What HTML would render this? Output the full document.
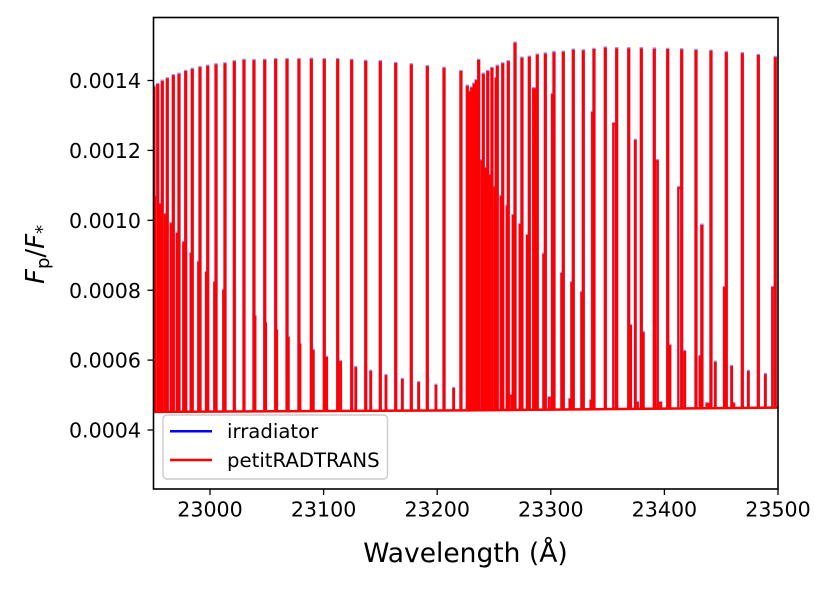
<!DOCTYPE html>
<html>
<head>
<meta charset="utf-8">
<title>Fp/F* spectrum</title>
<style>
html,body{margin:0;padding:0;background:#fff;width:830px;height:593px;overflow:hidden}
svg{display:block}
text{font-family:"DejaVu Sans","Liberation Sans",sans-serif;fill:#000}
</style>
</head>
<body>
<svg id="chart" width="830" height="593" viewBox="0 0 830 593" xmlns="http://www.w3.org/2000/svg">
  <defs><clipPath id="plot-clip"><rect x="153.5" y="17.5" width="624.5" height="471.5"/></clipPath></defs>
  <rect x="0" y="0" width="830" height="593" fill="#fff"/>
  <g id="series" clip-path="url(#plot-clip)"></g>
  <g id="ticks"></g>
  <rect x="153.5" y="17.5" width="624.5" height="471.5" fill="none" stroke="#000" stroke-width="1.6"/>
  <text x="465.5" y="562" font-size="26.5" text-anchor="middle">Wavelength (Å)</text>
  <text transform="translate(44 284) rotate(-90)" font-size="26"><tspan font-style="italic">F</tspan><tspan font-size="18" dy="5">p</tspan><tspan dy="-5">/</tspan><tspan font-style="italic">F</tspan><tspan font-size="18" dy="4">*</tspan></text>
  <g>
    <rect x="163" y="415" width="224.5" height="64" rx="4" ry="4" fill="#fff" fill-opacity="0.8" stroke="#cccccc" stroke-width="1.4"/>
    <line x1="170" y1="431.3" x2="212" y2="431.3" stroke="#0000ff" stroke-width="2.5"/>
    <text x="227" y="438" font-size="19.7">irradiator</text>
    <line x1="170" y1="460" x2="212" y2="460" stroke="#ff0000" stroke-width="2.5"/>
    <text x="227" y="467" font-size="19.7">petitRADTRANS</text>
  </g>
</svg>
<script>
const xTicks = [23000, 23100, 23200, 23300, 23400, 23500];
const yTicks = [0.0004, 0.0006, 0.0008, 0.0010, 0.0012, 0.0014];

const continuumWave = [22950, 23225, 23500];
const irradiatorContinuum = [0.000452, 0.000456, 0.000464];
const radtransContinuum = [0.000452, 0.000456, 0.000464];

const lineWave = [
22950.7,22954.0,22958.0,22962.4,22967.7,22972.7,22978.6,22984.4,22991.2,22998.0,
23005.3,23013.2,23021.4,23029.9,23038.7,23048.2,23057.8,23067.8,23078.3,23089.2,
23100.6,23112.4,23124.7,23137.1,23149.9,23163.5,23177.2,23191.3,23206.0,23220.9,
23226.5,23228.3,23230.4,23232.4,23234.4,23236.5,23240.6,23244.5,23248.2,23252.9,
23257.7,23262.6,23268.5,23274.6,23281.1,23288.1,23295.2,23302.8,23311.0,23319.8,
23328.6,23338.0,23348.0,23358.0,23368.6,23379.7,23391.1,23402.9,23415.2,23427.8,
23441.0,23454.5,23468.6,23482.7,23497.6,22951.6,22956.0,22960.4,22965.4,22970.7,
22976.5,22983.0,22989.7,22996.5,23003.8,23011.7,23021.4,23029.9,23039.6,23049.0,
23058.7,23068.9,23079.2,23090.9,23102.7,23115.0,23128.3,23141.5,23154.9,23169.3,
23183.7,23198.9,23214.5,23239.2,23242.7,23246.2,23250.6,23251.5,23255.9,23261.2,
23266.5,23272.6,23279.0,23285.2,23286.1,23293.5,23301.3,23309.6,23318.4,23327.2,
23336.6,23356.1,23370.3,23374.4,23381.4,23393.2,23404.9,23413.5,23417.9,23431.3,
23433.0,23444.8,23452.7,23459.2,23473.9,23488.9,23495.9,23264.7,23299.3,23317.5,
23336.0,23375.6,23396.1,23438.1,23460.4
];

const lineWidth = [
0.9,0.9,0.9,0.9,0.9,0.9,0.9,0.9,0.9,0.9,
0.9,0.9,0.9,0.9,0.9,0.9,0.9,0.9,0.9,0.9,
0.9,0.9,0.9,0.9,0.9,0.9,0.9,0.9,0.9,0.9,
0.9,0.9,0.9,0.9,0.9,0.9,0.9,0.9,0.9,0.9,
0.9,0.9,0.9,0.9,0.9,0.9,0.9,0.9,0.9,0.9,
0.9,0.9,0.9,0.9,0.9,0.9,0.9,0.9,0.9,0.9,
0.9,0.9,0.9,0.9,0.9,0.1,0.1,0.1,0.1,0.1,
0.1,0.1,0.1,0.1,0.1,0.1,0.1,0.1,0.6,0.6,
0.6,0.6,0.6,0.6,0.6,0.6,0.6,0.6,0.6,0.6,
0.6,0.6,0.6,0.6,0.6,0.6,0.1,0.1,0.1,0.1,
0.1,0.1,0.1,1.5,0.1,0.1,0.6,0.6,0.6,0.6,
0.6,2.2,0.6,0.6,0.6,2.0,0.6,2.5,0.6,0.6,
1.0,0.6,0.6,0.6,0.6,0.6,2.0,2.0,2.0,2.0,
2.0,2.0,2.0,2.0,2.0
];

const radtransFlux = [
.001382,.001390,.001399,.001406,.001415,.001419,.001427,.001433,.001438,.001442,
.001446,.001449,.001455,.001459,.001458,.001459,.001461,.001461,.001461,.001462,
.001461,.001461,.001459,.001456,.001455,.001450,.001446,.001441,.001436,.001427,
.001385,.001368,.001380,.001391,.001401,.001459,.001419,.001427,.001436,.001442,
.001449,.001455,.001508,.001465,.001468,.001474,.001477,.001481,.001482,.001488,
.001486,.001490,.001494,.001492,.001492,.001492,.001491,.001490,.001489,.001487,
.001485,.001481,.001478,.001473,.001467,.001069,.001047,.001018,.000992,.000964,
.000938,.000906,.000881,.000852,.000823,.000801,.000769,.000749,.000726,.000706,
.000686,.000666,.000646,.000629,.000609,.000597,.000580,.000569,.000557,.000546,
.000537,.000529,.000520,.001172,.001150,.001130,.001096,.001407,.001070,.001042,
.001015,.000989,.000958,.001378,.000935,.000904,.001361,.000849,.000823,.000795,
.001310,.001278,.000700,.001230,.000680,.001172,.000643,.001095,.000626,.000612,
.000987,.000595,.000809,.000583,.000569,.000560,.000809,.000500,.000494,.000489,
.000486,.000480,.000480,.000477,.000477
];

const irradiatorFlux = [
.001385,.001393,.001402,.001409,.001418,.001422,.001430,.001436,.001441,.001445,
.001449,.001452,.001458,.001462,.001461,.001462,.001464,.001464,.001464,.001465,
.001464,.001464,.001462,.001459,.001458,.001453,.001449,.001444,.001439,.001430,
.001388,.001371,.001383,.001394,.001404,.001462,.001422,.001430,.001439,.001445,
.001452,.001458,.001511,.001468,.001471,.001477,.001480,.001484,.001485,.001491,
.001489,.001493,.001497,.001495,.001495,.001495,.001494,.001493,.001492,.001490,
.001488,.001484,.001481,.001476,.001470,.001072,.001050,.001021,.000995,.000967,
.000941,.000909,.000884,.000855,.000826,.000804,.000772,.000752,.000729,.000709,
.000689,.000669,.000649,.000632,.000612,.000600,.000583,.000572,.000560,.000549,
.000540,.000532,.000523,.001175,.001153,.001133,.001099,.001410,.001073,.001045,
.001018,.000992,.000961,.001381,.000938,.000907,.001364,.000852,.000826,.000798,
.001313,.001281,.000703,.001233,.000683,.001175,.000646,.001098,.000629,.000615,
.000990,.000598,.000812,.000586,.000572,.000563,.000812,.000503,.000497,.000492,
.000489,.000483,.000483,.000480,.000480
];

const SVG_NS = 'http://www.w3.org/2000/svg';
const svg = document.getElementById('chart');
const seriesLayer = document.getElementById('series');
const tickLayer = document.getElementById('ticks');
const strokeHalf = 1.0;

function xScale(w) { return 210 + (w - 23000) * 1.136; }
function yScale(f) { return 430 - (f - 0.0004) * 349500; }

function continuumAt(w, values) {
  const i = w < continuumWave[1] ? 0 : 1;
  const t = (w - continuumWave[i]) / (continuumWave[i + 1] - continuumWave[i]);
  return values[i] + t * (values[i + 1] - values[i]);
}

function continuumPath(continuum) {
  return 'M' + continuumWave.map(function (w, i) {
    return xScale(w).toFixed(2) + ' ' + yScale(continuum[i]).toFixed(2);
  }).join('L');
}

function spectrumPath(flux, continuum) {
  let d = '';
  lineWave.forEach(function (w, i) {
    const left = xScale(w - lineWidth[i] / 2).toFixed(2);
    const right = xScale(w + lineWidth[i] / 2).toFixed(2);
    const top = (yScale(flux[i]) + strokeHalf).toFixed(2);
    const footL = yScale(continuumAt(w - lineWidth[i] / 2, continuum)).toFixed(2);
    const footR = yScale(continuumAt(w + lineWidth[i] / 2, continuum)).toFixed(2);
    d += 'M' + left + ' ' + footL + 'L' + left + ' ' + top + 'L' + right + ' ' + top + 'L' + right + ' ' + footR;
  });
  return d;
}

const bluePath = document.createElementNS(SVG_NS, 'path');


bluePath.setAttribute('d', spectrumPath(irradiatorFlux, irradiatorContinuum));
bluePath.setAttribute('fill', 'none');
bluePath.setAttribute('stroke', '#0000ff');
bluePath.setAttribute('stroke-opacity', '0.4');
bluePath.setAttribute('stroke-width', '2.5');
seriesLayer.appendChild(bluePath);

const redPath = document.createElementNS(SVG_NS, 'path');


redPath.setAttribute('d', spectrumPath(radtransFlux, radtransContinuum));
redPath.setAttribute('fill', 'none');
redPath.setAttribute('stroke', '#ff0000');
redPath.setAttribute('stroke-width', '2.0');
seriesLayer.appendChild(redPath);

const redContinuum = document.createElementNS(SVG_NS, 'path');


redContinuum.setAttribute('d', continuumPath(radtransContinuum));
redContinuum.setAttribute('fill', 'none');
redContinuum.setAttribute('stroke', '#ff0000');
redContinuum.setAttribute('stroke-width', '2.5');
seriesLayer.appendChild(redContinuum);

xTicks.forEach(function (v) {
  const x = xScale(v);
  const mark = document.createElementNS(SVG_NS, 'line');
  
  
  mark.setAttribute('x1', x);
  mark.setAttribute('x2', x);
  mark.setAttribute('y1', 489);
  mark.setAttribute('y2', 495);
  mark.setAttribute('stroke', '#000');
  mark.setAttribute('stroke-width', '1.3');
  tickLayer.appendChild(mark);
  const label = document.createElementNS(SVG_NS, 'text');
  
  
  label.setAttribute('x', x);
  label.setAttribute('y', 516.5);
  label.setAttribute('font-size', '20.6');
  label.setAttribute('text-anchor', 'middle');
  label.textContent = String(v);
  tickLayer.appendChild(label);
});

yTicks.forEach(function (v) {
  const y = yScale(v);
  const mark = document.createElementNS(SVG_NS, 'line');
  
  
  mark.setAttribute('x1', 147.5);
  mark.setAttribute('x2', 153.5);
  mark.setAttribute('y1', y);
  mark.setAttribute('y2', y);
  mark.setAttribute('stroke', '#000');
  mark.setAttribute('stroke-width', '1.3');
  tickLayer.appendChild(mark);
  const label = document.createElementNS(SVG_NS, 'text');
  
  
  label.setAttribute('x', 141);
  label.setAttribute('y', y + 7.6);
  label.setAttribute('font-size', '20.6');
  label.setAttribute('text-anchor', 'end');
  label.textContent = v.toFixed(4);
  tickLayer.appendChild(label);
});
</script>
</body>
</html>
